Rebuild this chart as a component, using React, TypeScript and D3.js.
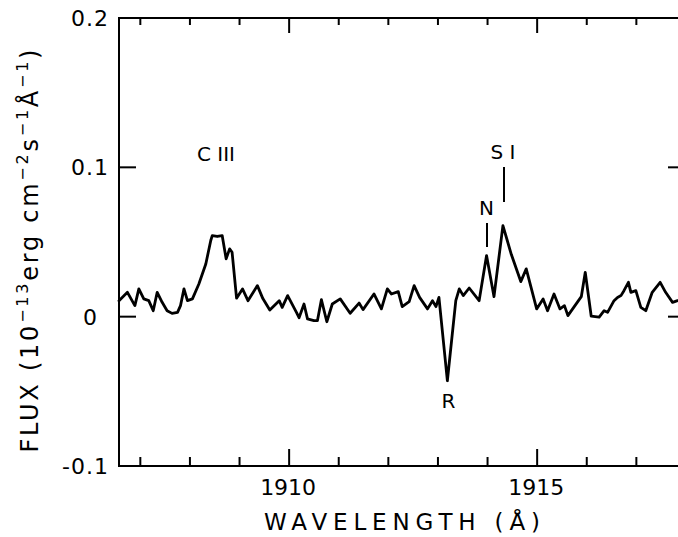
import React from "react";
import * as d3 from "d3";

// Spectrum (wavelength in Å, flux in 1e-13 erg cm^-2 s^-1 Å^-1)
const wavelength = [
  1906.57, 1906.74, 1906.89, 1906.97, 1907.07, 1907.17, 1907.26, 1907.34, 1907.44, 1907.54,
  1907.64, 1907.75, 1907.81, 1907.88, 1907.95, 1908.05, 1908.18, 1908.32, 1908.42, 1908.45,
  1908.55, 1908.65, 1908.73, 1908.80, 1908.85, 1908.94, 1909.06, 1909.17, 1909.36, 1909.47,
  1909.61, 1909.80, 1909.86, 1909.97, 1910.15, 1910.20, 1910.30, 1910.37, 1910.50, 1910.57,
  1910.65, 1910.76, 1910.87, 1911.03, 1911.23, 1911.41, 1911.49, 1911.71, 1911.86, 1911.98,
  1912.06, 1912.20, 1912.28, 1912.42, 1912.52, 1912.63, 1912.79, 1912.89, 1912.96, 1913.02,
  1913.19, 1913.36, 1913.43, 1913.51, 1913.63, 1913.83, 1913.98, 1914.13, 1914.31, 1914.48,
  1914.67, 1914.78, 1914.99, 1915.12, 1915.21, 1915.34, 1915.46, 1915.55, 1915.62, 1915.89,
  1915.97, 1916.09, 1916.25, 1916.35, 1916.42, 1916.55, 1916.62, 1916.69, 1916.75, 1916.84,
  1916.89, 1916.99, 1917.09, 1917.19, 1917.32, 1917.48, 1917.59, 1917.73, 1917.83,
];
const flux = [
  0.0107, 0.0163, 0.0074, 0.0186, 0.0119, 0.0107, 0.0040, 0.0163, 0.0096, 0.0040,
  0.0022, 0.0029, 0.0074, 0.0186, 0.0107, 0.0119, 0.0219, 0.0353, 0.0510, 0.0543,
  0.0537, 0.0543, 0.0387, 0.0454, 0.0431, 0.0124, 0.0186, 0.0107, 0.0208, 0.0121,
  0.0044, 0.0107, 0.0062, 0.0141, 0.0027, -0.0007, 0.0085, -0.0015, -0.0027, -0.0027,
  0.0114, -0.0034, 0.0085, 0.0119, 0.0023, 0.0091, 0.0047, 0.0152, 0.0052, 0.0186,
  0.0152, 0.0168, 0.0067, 0.0101, 0.0208, 0.0129, 0.0052, 0.0107, 0.0067, 0.0129,
  -0.0429, 0.0107, 0.0186, 0.0141, 0.0192, 0.0107, 0.0409, 0.0134, 0.0610, 0.0416,
  0.0235, 0.0320, 0.0052, 0.0119, 0.0040, 0.0152, 0.0052, 0.0074, 0.0007, 0.0134,
  0.0297, 0.0003, -0.0003, 0.0040, 0.0029, 0.0107, 0.0129, 0.0141, 0.0174, 0.0230,
  0.0163, 0.0174, 0.0062, 0.0040, 0.0163, 0.0230, 0.0163, 0.0096, 0.0107,
];

const xMinorTicks = [1907, 1908, 1909, 1910, 1911, 1912, 1913, 1914, 1915, 1916, 1917];
const xMajorTicks = [1910, 1915];
const yTicks = [-0.1, 0, 0.1, 0.2];
const yTickLabels = ["-0.1", "0", "0.1", "0.2"];
const rightTicks = [0, 0.1];

const W = 678;
const H = 537;
const FONT = "'DejaVu Sans', sans-serif";

export default function App() {
  const left = 119, right = 681, top = 18, bottom = 466;
  const x = d3.scaleLinear().domain([1906.57, 1917.9]).range([left, right]);
  const y = d3.scaleLinear().domain([-0.1, 0.2]).range([bottom, top]);
  const pts: [number, number][] = wavelength.map((w, i) => [w, flux[i]]);
  const line = d3
    .line<[number, number]>()
    .x((d) => x(d[0]))
    .y((d) => y(d[1]))
    .curve(d3.curveLinear);

  const axisW = 2;
  return (
    <svg
      width={W}
      height={H}
      viewBox={`0 0 ${W} ${H}`}
      style={{ position: "absolute", left: 0, top: 0, background: "#fff" }}
    >
      <rect x={0} y={0} width={W} height={H} fill="#fff" />
      {/* frame */}
      <g stroke="#000" strokeWidth={axisW} fill="none">
        <line x1={left} y1={top} x2={left} y2={bottom} />
        <line x1={left - 1} y1={bottom} x2={right} y2={bottom} />
        <line x1={left - 1} y1={top} x2={right} y2={top} />
        <line x1={right} y1={top} x2={right} y2={bottom} />
      </g>
      {/* ticks */}
      <g stroke="#000" strokeWidth={axisW}>
        {xMinorTicks.map((t) => {
          const major = xMajorTicks.includes(t);
          return (
            <g key={t}>
              <line x1={x(t)} x2={x(t)} y1={bottom} y2={bottom - (major ? 17 : 9)} />
              <line x1={x(t)} x2={x(t)} y1={top} y2={top + (major ? 15 : 7)} />
            </g>
          );
        })}
        {yTicks.map((t) => (
          <line key={t} x1={left} x2={left + 17} y1={y(t)} y2={y(t)} />
        ))}
        {rightTicks.map((t) => (
          <line key={t} x1={right} x2={right - 13} y1={y(t)} y2={y(t)} />
        ))}
      </g>
      {/* x tick labels */}
      <g fontFamily={FONT} fontSize={22} fill="#000" textAnchor="middle">
        {xMajorTicks.map((t) => (
          <text key={t} x={x(t) - 1} y={495}>
            {t}
          </text>
        ))}
      </g>
      {/* y tick labels */}
      <g fontFamily={FONT} fontSize={22} fill="#000" textAnchor="end">
        {yTicks.map((t, i) => (
          <text key={t} x={t === 0 ? 98 : 109} y={y(t)} dy="0.36em" letterSpacing={1}>
            {yTickLabels[i]}
          </text>
        ))}
      </g>
      {/* spectrum */}
      <path
        d={line(pts) || ""}
        fill="none"
        stroke="#000"
        strokeWidth={2.8}
        strokeLinejoin="round"
        strokeLinecap="round"
      />
      {/* line identifications */}
      <g fontFamily={FONT} fontSize={20} fill="#000" textAnchor="middle">
        <text x={216} y={161}>C III</text>
        <text x={503} y={159}>S I</text>
        <text x={486.5} y={215}>N</text>
        <text x={448.5} y={408}>R</text>
      </g>
      <g stroke="#000" strokeWidth={2}>
        <line x1={504} x2={504} y1={167} y2={202} />
        <line x1={487} x2={487} y1={223} y2={247} />
      </g>
      {/* axis titles */}
      <text
        x={402}
        y={530}
        fontFamily={FONT}
        fontSize={23}
        textAnchor="middle"
        textLength={276}
        lengthAdjust="spacing"
      >
        WAVELENGTH (Å)
      </text>
      <text
        transform={`translate(38, 251) rotate(-90)`}
        fontFamily={FONT}
        fontSize={24}
        textAnchor="middle"
        textLength={403}
        lengthAdjust="spacing"
      >
        FLUX (10
        <tspan fontSize={16} dy={-10}>−13</tspan>
        <tspan dy={10}>erg cm</tspan>
        <tspan fontSize={16} dy={-10}>−2</tspan>
        <tspan dy={10}>s</tspan>
        <tspan fontSize={16} dy={-10}>−1</tspan>
        <tspan dy={10}>Å</tspan>
        <tspan fontSize={16} dy={-10}>−1</tspan>
        <tspan dy={10}>)</tspan>
      </text>
    </svg>
  );
}
